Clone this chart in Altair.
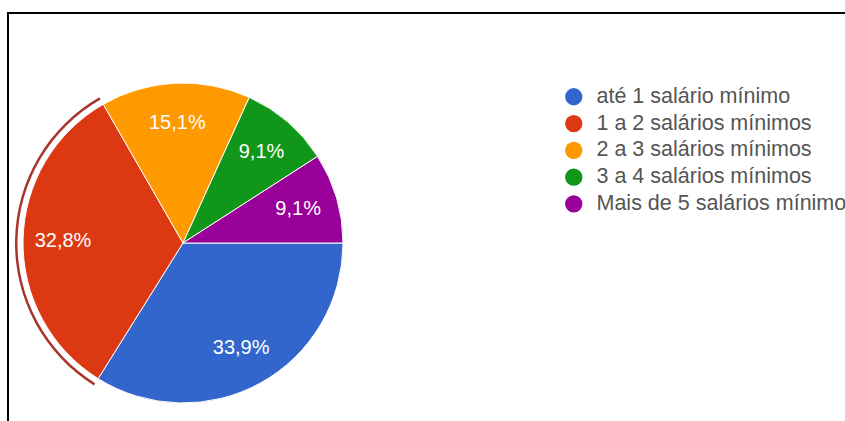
import math
import altair as alt
import pandas as pd

categories = [
    "até 1 salário mínimo",
    "1 a 2 salários mínimos",
    "2 a 3 salários mínimos",
    "3 a 4 salários mínimos",
    "Mais de 5 salários mínimos",
]
values = [33.9, 32.8, 15.1, 9.1, 9.1]
labels = ["33,9%", "32,8%", "15,1%", "9,1%", "9,1%"]
colors = ["#3366cc", "#dc3912", "#ff9900", "#109618", "#990099"]

df = pd.DataFrame({
    "cat": categories,
    "value": values,
    "label": labels,
    "idx": list(range(len(categories))),
})

theta = alt.Theta("value:Q", stack=True,
                  scale=alt.Scale(range=[math.pi / 2, math.pi / 2 + 2 * math.pi]))
order = alt.Order("idx:Q")
cx, cy = 183, 243

base = alt.Chart(df).encode(theta=theta, order=order,
                            x=alt.value(cx), y=alt.value(cy))

pie = base.mark_arc(radius=160, stroke="white", strokeWidth=1).encode(
    color=alt.Color(
        "cat:N",
        scale=alt.Scale(domain=categories, range=colors),
        legend=alt.Legend(
            title=None,
            orient="none",
            legendX=563,
            legendY=86,
            symbolType="circle",
            symbolSize=300,
            symbolStrokeWidth=0,
            symbolOpacity=1,
            labelFontSize=21.5,
            labelFont="Liberation Sans",
            labelColor="#555555",
            labelOffset=12,
            labelLimit=600,
            rowPadding=3.8,
        ),
    )
)

highlight = base.mark_arc(radius=168, radius2=165.5).encode(
    fill=alt.condition(alt.datum.cat == categories[1],
                       alt.value("#a8342c"), alt.value("transparent"))
)

text = base.mark_text(radius=120, fontSize=20, font="Liberation Sans",
                      color="white").encode(text="label:N")

one = pd.DataFrame({"a": [0]})
top_rule = alt.Chart(one).mark_rule(color="black", strokeWidth=2).encode(
    x=alt.value(7), x2=alt.value(845), y=alt.value(13))
left_rule = alt.Chart(one).mark_rule(color="black", strokeWidth=2).encode(
    x=alt.value(8), y=alt.value(13), y2=alt.value(421))

chart = alt.layer(highlight, pie, text, top_rule, left_rule).properties(
    width=845, height=421, padding=0,
    autosize=alt.AutoSizeParams(type="none"),
    background="white",
).configure_view(stroke=None)

chart.save("out.html", embed_options={"renderer": "svg", "actions": False})
